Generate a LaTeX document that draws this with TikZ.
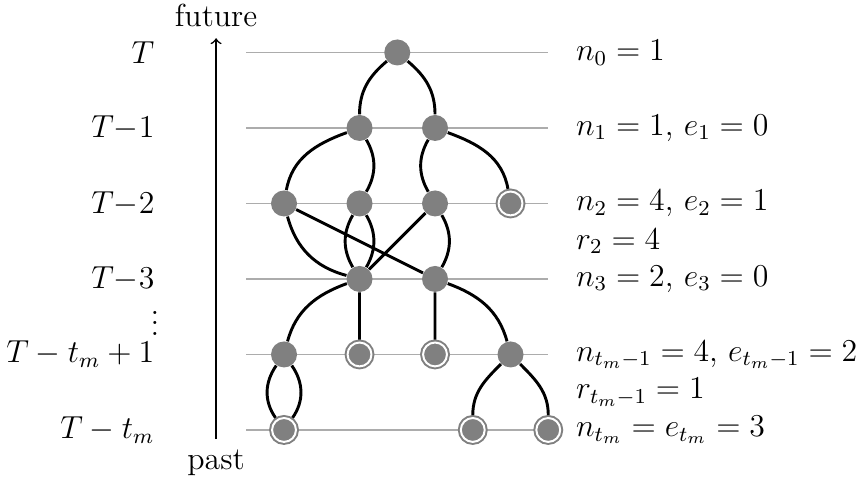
\documentclass[12pt,tikz,border=0pt]{standalone}
\usepackage{amsmath,amssymb}
\usepackage{xcolor}
\usepackage{tikz}
\usetikzlibrary{calc}

\begin{document}
\begin{tikzpicture}[>=to,
		birth/.style={circle,fill=gray,inner sep=0pt,minimum size=9.8pt},
		leaf/.style={circle,fill=gray,draw=gray,double=white,double distance=0.75pt,
			line width=0.75pt,inner sep=0pt,minimum size=9pt,outer sep=1.1pt},
		lineage/.style={line width=1.1pt},
		level/.style={gray!65,line width=0.5pt}]
			\def\xl{-0.5}
			\def\xr{3.5}
			\def\ax{-0.9}
			
			\useasboundingbox (-3.762,-0.755) rectangle (7.629,5.695);
			
			\foreach \y in {0,...,5}
				\draw[level] (\xl,\y)--(\xr,\y);
			
			% time axis
			\node[anchor=base] (past) at (\ax,-0.53) {past};
			\node[anchor=base] (future) at (\ax,5.34) {future};
			\draw[->,semithick] (past)--(future);
			
			\node[anchor=east] (tT) at (-1.57,5) {$T$};
			\node[anchor=east] (tT1) at (-1.57,4) {$T{-}1$};
			\node[anchor=east] (tT2) at (-1.57,3) {$T{-}2$};
			\node[anchor=east] (tT3) at (-1.57,2) {$T{-}3$};
			\node[anchor=base,inner sep=0pt] (tdots) at (-1.71,1.25) {$\vdots$};
			\node[anchor=east] (tTm1) at (-1.57,1) {$T-t_m+1$};
			\node[anchor=east] (tTm) at (-1.57,0) {$T-t_m$};
			
			% genealogy
			\node[birth] (a) at (1.5,5) {};
			\node[birth] (b1) at (1,4) {};
			\node[birth] (b2) at (2,4) {};
			\node[birth] (c1) at (0,3) {};
			\node[birth] (c2) at (1,3) {};
			\node[birth] (c3) at (2,3) {};
			\node[leaf] (c4) at (3,3) {};
			\node[birth] (d1) at (1,2) {};
			\node[birth] (d2) at (2,2) {};
			\node[birth] (e1) at (0,1) {};
			\node[leaf] (e2) at (1,1) {};
			\node[leaf] (e3) at (2,1) {};
			\node[birth] (e4) at (3,1) {};
			\node[leaf] (f1) at (0,0) {};
			\node[leaf] (f2) at (2.5,0) {};
			\node[leaf] (f3) at (3.5,0) {};
			
			\draw[lineage] (a) to[out=-140,in=90] (b1)
				(a) to[out=-40,in=90] (b2)
				(b1) to[out=200,in=80] (c1)
				(b1) to[out=-60,in=60] (c2)
				(b2) to[out=-120,in=120] (c3)
				(b2) to[out=-20,in=100] (c4)
				(c1) to[out=-75,in=165] (d1)
				(c1)--(d2)
				(c2) to[out=-120,in=120] (d1)
				(c2) to[out=-60,in=60] (d1)
				(c3)--(d1)
				(c3) to[out=-60,in=60] (d2)
				(d1) to[out=200,in=75] (e1)
				(d1)--(e2)
				(d2)--(e3)
				(d2) to[out=-20,in=105] (e4)
				(e1) to[out=-125,in=125] (f1)
				(e1) to[out=-55,in=55] (f1)
				(e4) to[out=-135,in=90] (f2)
				(e4) to[out=-45,in=90] (f3);
			
			% counts
			\node[anchor=west] (l0) at (3.72,5) {$n_0=1$};
			\node[anchor=west] (l1) at (3.72,4) {$n_1=1$, $e_1=0$};
			\node[anchor=west] (l2) at (3.72,3) {$n_2=4$, $e_2=1$};
			\node[anchor=west] (r2) at (3.72,2.5) {$r_2=4$};
			\node[anchor=west] (l3) at (3.72,2) {$n_3=2$, $e_3=0$};
			\node[anchor=west] (lm1) at (3.72,1) {$n_{t_m-1}=4$, $e_{t_m-1}=2$};
			\node[anchor=west] (rm1) at (3.72,0.5) {$r_{t_m-1}=1$};
			\node[anchor=west] (lm) at (3.72,0) {$n_{t_m}=e_{t_m}=3$};
		\end{tikzpicture}
\end{document}
